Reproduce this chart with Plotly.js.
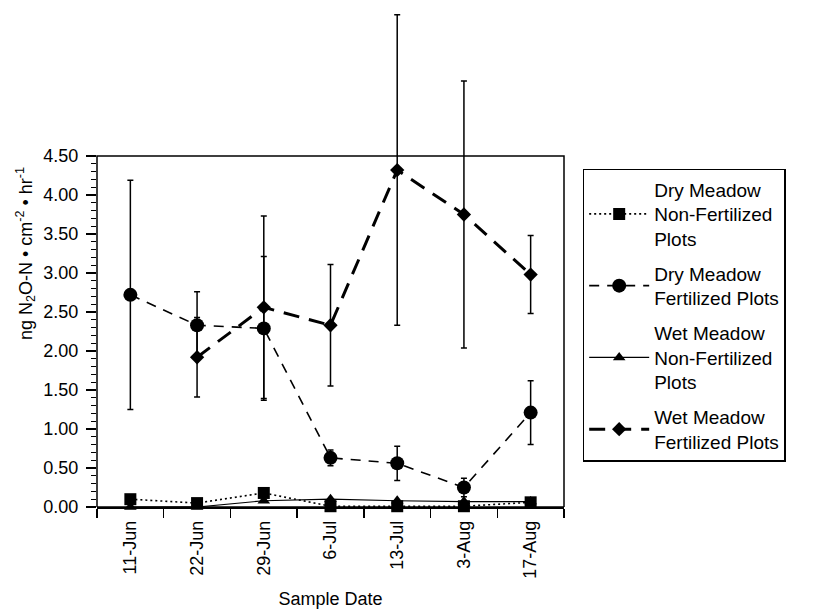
<!DOCTYPE html>
<html>
<head>
<meta charset="utf-8">
<script src="https://cdn.plot.ly/plotly-3.0.1.min.js"></script>
<style>html,body{margin:0;padding:0;background:#fff;}#chart{width:814px;height:614px;}</style>
</head>
<body>
<div id="chart"></div>
<script>
const dates = ["11-Jun", "22-Jun", "29-Jun", "6-Jul", "13-Jul", "3-Aug", "17-Aug"];
const wetFertDates = ["22-Jun", "29-Jun", "6-Jul", "13-Jul", "3-Aug", "17-Aug"];

const dryNonFert = [0.10, 0.05, 0.18, 0.01, 0.01, 0.01, 0.06];
const dryFert = [2.72, 2.33, 2.29, 0.63, 0.56, 0.25, 1.21];
const dryFertErr = [1.47, 0.43, 0.92, 0.10, 0.22, 0.12, 0.41];
const wetNonFert = [0.00, 0.00, 0.08, 0.10, 0.08, 0.07, 0.07];
const wetFert = [1.92, 2.56, 2.33, 4.32, 3.75, 2.98];
const wetFertErr = [0.51, 1.17, 0.78, 1.99, 1.71, 0.50];

const yTicks = [0, 0.5, 1, 1.5, 2, 2.5, 3, 3.5, 4, 4.5];
const yMinorTicks = [0.1, 0.2, 0.3, 0.4, 0.6, 0.7, 0.8, 0.9, 1.1, 1.2, 1.3, 1.4,
  1.6, 1.7, 1.8, 1.9, 2.1, 2.2, 2.3, 2.4, 2.6, 2.7, 2.8, 2.9, 3.1, 3.2, 3.3, 3.4,
  3.6, 3.7, 3.8, 3.9, 4.1, 4.2, 4.3, 4.4];
const yFrameTop = 4.5;

const FONT = "Liberation Sans, Arial, Helvetica, sans-serif";

const traces = [
  {
    x: dates, y: dryNonFert, type: "scatter", mode: "lines+markers",
    name: "Dry Meadow<br>Non-Fertilized<br>Plots", legendgroup: "a",
    line: {color: "#000", width: 1.6, dash: "2px,3px"},
    marker: {symbol: "square", size: 12, color: "#000"},
    cliponaxis: false
  },
  {
    x: dates, y: dryFert, type: "scatter", mode: "lines+markers",
    name: "Dry Meadow<br>Fertilized Plots", legendgroup: "b",
    line: {color: "#000", width: 1.6, dash: "10px,8px"},
    marker: {symbol: "circle", size: 14, color: "#000"},
    error_y: {type: "data", array: dryFertErr, visible: true, color: "#000", thickness: 1.5, width: 3},
    cliponaxis: false
  },
  {
    x: dates, y: wetNonFert, type: "scatter", mode: "lines+markers",
    name: "Wet Meadow<br>Non-Fertilized<br>Plots", legendgroup: "c",
    line: {color: "#000", width: 1.2},
    marker: {symbol: "triangle-up", size: 11, color: "#000"},
    cliponaxis: false
  },
  {
    x: wetFertDates, y: wetFert, type: "scatter", mode: "lines+markers",
    name: "Wet Meadow<br>Fertilized Plots", legendgroup: "d",
    line: {color: "#000", width: 3, dash: "16px,10px"},
    marker: {symbol: "diamond", size: 11, color: "#000"},
    error_y: {type: "data", array: wetFertErr, visible: true, color: "#000", thickness: 1.5, width: 3},
    cliponaxis: false
  }
];

const layout = {
  width: 814, height: 614,
  paper_bgcolor: "#fff", plot_bgcolor: "#fff",
  font: {family: FONT, size: 18, color: "#000"},
  margin: {l: 97, r: 250, t: 0, b: 107, pad: 0, autoexpand: false},
  showlegend: true,
  legend: {
    x: 1.04, xanchor: "left", y: 0.667, yanchor: "top",
    bordercolor: "#000", borderwidth: 1.5, bgcolor: "#fff",
    font: {family: FONT, size: 19, color: "#000"},
    traceorder: "grouped", tracegroupgap: 7, itemwidth: 60
  },
  shapes: [{
    type: "rect", xref: "paper", yref: "y", x0: 0, x1: 1, y0: 0, y1: yFrameTop,
    line: {color: "#000", width: 1.5}, fillcolor: "rgba(0,0,0,0)", layer: "above"
  }],
  xaxis: {
    type: "category", categoryorder: "array", categoryarray: dates,
    range: [-0.5, 6.5],
    showline: true, linecolor: "#000", linewidth: 1.5, mirror: false,
    ticks: "outside", ticklen: 9, tickwidth: 1.5, tickcolor: "#000",
    ticklabelstandoff: 5,
    tickson: "boundaries", tickangle: -90,
    showgrid: false, zeroline: false,
    tickfont: {family: FONT, size: 18, color: "#000"},
    title: {text: "Sample Date", font: {family: FONT, size: 18, color: "#000"}, standoff: 14}
  },
  yaxis: {
    range: [0, 6.5], tickmode: "array", tickvals: yTicks, tickformat: ".2f",
    showline: false, mirror: false, automargin: true,
    ticks: "outside", ticklen: 10, tickwidth: 1.5, tickcolor: "#000",
    ticklabelstandoff: 4,
    minor: {tickmode: "array", tickvals: yMinorTicks, ticks: "outside", ticklen: 5, tickwidth: 1, tickcolor: "#000", showgrid: false},
    showgrid: false, zeroline: false,
    tickfont: {family: FONT, size: 18, color: "#000"},
    title: {text: "ng N<sub>2</sub>O-N • cm<sup>-2</sup> • hr<sup>-1</sup>", font: {family: FONT, size: 18, color: "#000"}, standoff: 6}
  }
};

Plotly.newPlot("chart", traces, layout, {staticPlot: true, displayModeBar: false});
</script>
</body>
</html>
